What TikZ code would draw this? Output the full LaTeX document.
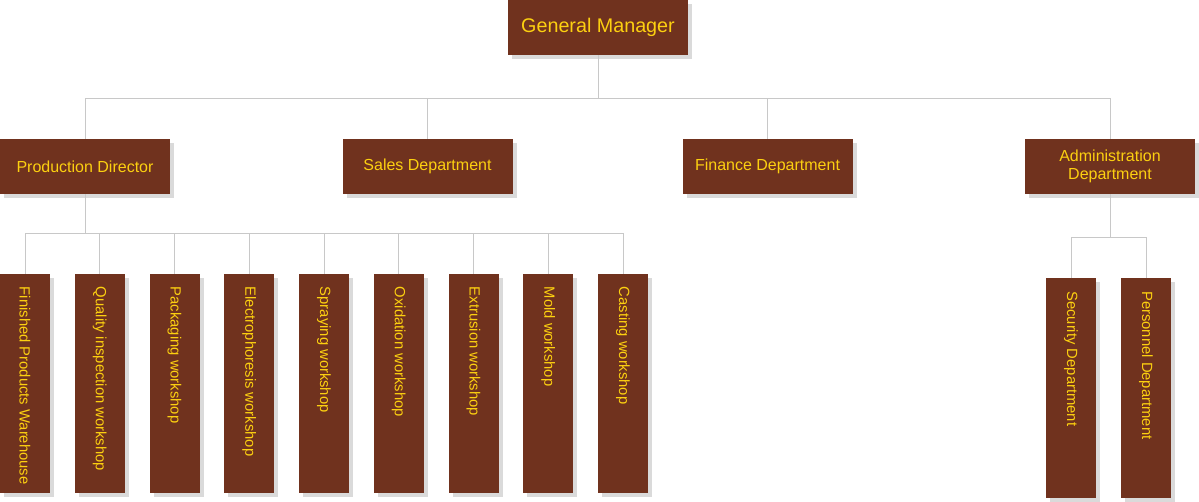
\documentclass[tikz,border=0pt]{standalone}
\usepackage{fontspec}
\setmainfont{Liberation Sans}
\usepackage{graphicx}
\usetikzlibrary{shadows}
\definecolor{brownbox}{RGB}{112,50,30}
\definecolor{goldtext}{RGB}{252,208,16}
\definecolor{linegray}{RGB}{200,200,200}
\definecolor{shadowgray}{RGB}{218,218,218}

\tikzset{
    box/.style={fill=brownbox, text=goldtext, inner sep=0pt, align=center,
        drop shadow={shadow xshift=3pt, shadow yshift=-3pt, fill=shadowgray, opacity=1}},
    topbox/.style={box, minimum width=135pt, minimum height=41.25pt, font=\fontsize{14.8}{17}\selectfont},
    deptbox/.style={box, minimum width=127.5pt, minimum height=41.25pt, font=\fontsize{12}{13.5}\selectfont},
    unitbox/.style={box, minimum width=37.5pt, minimum height=164.25pt, font=\fontsize{11.1}{13}\selectfont},
    conn/.style={draw=linegray, line width=0.75pt}
}
\newcommand{\vtext}[1]{\rotatebox{-90}{\makebox[145pt][l]{#1}}}

\begin{document}
\begin{tikzpicture}[x=0.75pt, y=-0.75pt]
        \useasboundingbox (0,0) rectangle (1199,502);

        % Top
        \node[topbox] (gm) at (598,27.5) {General Manager};

        % Departments
        \node[deptbox] (prod) at (85,166.5) {Production Director};
        \node[deptbox] (sales) at (427.5,166.5) {Sales Department};
        \node[deptbox] (fin) at (767.5,166.5) {Finance Department};
        \node[deptbox] (admin) at (1110,166.5) {Administration\\Department};

        % Workshops
        \node[unitbox] (w1) at (25,383.5) {\vtext{Finished Products Warehouse}};
        \node[unitbox] (w2) at (99.75,383.5) {\vtext{Quality inspection workshop}};
        \node[unitbox] (w3) at (174.5,383.5) {\vtext{Packaging workshop}};
        \node[unitbox] (w4) at (249.25,383.5) {\vtext{Electrophoresis workshop}};
        \node[unitbox] (w5) at (324,383.5) {\vtext{Spraying workshop}};
        \node[unitbox] (w6) at (398.75,383.5) {\vtext{Oxidation workshop}};
        \node[unitbox] (w7) at (473.5,383.5) {\vtext{Extrusion workshop}};
        \node[unitbox] (w8) at (548.25,383.5) {\vtext{Mold workshop}};
        \node[unitbox] (w9) at (623,383.5) {\vtext{Casting workshop}};

        % Administration units
        \node[unitbox] (sec) at (1071,388) {\vtext{Security Department}};
        \node[unitbox] (pers) at (1146,388) {\vtext{Personnel Department}};

        % Bus points
        \coordinate (gmbus) at (598,99);
        \coordinate (prodbus) at (85,234);
        \coordinate (adminbus) at (1110,238);

        % Connectors
        \draw[conn] (gm.south) -- (gmbus);
        \draw[conn] (prod.north) |- (gmbus);
        \draw[conn] (sales.north) |- (gmbus);
        \draw[conn] (fin.north) |- (gmbus);
        \draw[conn] (admin.north) |- (gmbus);

        \draw[conn] (prod.south) -- (prodbus);
        \draw[conn] (w1.north) |- (prodbus);
        \draw[conn] (w2.north) |- (prodbus);
        \draw[conn] (w3.north) |- (prodbus);
        \draw[conn] (w4.north) |- (prodbus);
        \draw[conn] (w5.north) |- (prodbus);
        \draw[conn] (w6.north) |- (prodbus);
        \draw[conn] (w7.north) |- (prodbus);
        \draw[conn] (w8.north) |- (prodbus);
        \draw[conn] (w9.north) |- (prodbus);

        \draw[conn] (admin.south) -- (adminbus);
        \draw[conn] (sec.north) |- (adminbus);
        \draw[conn] (pers.north) |- (adminbus);
    \end{tikzpicture}
\end{document}
